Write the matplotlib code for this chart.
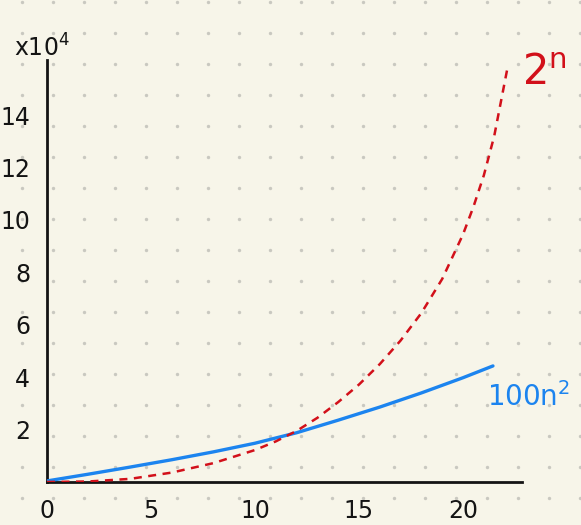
import numpy as np
import matplotlib
matplotlib.use("Agg")
import matplotlib.pyplot as plt

# ---- data (units of 10^4) ----
n_exp = [0, 2, 4, 6, 8, 10, 11, 12, 13, 14, 15, 16, 17, 18, 19, 20, 20.5, 21, 21.5, 22.12]
v_exp = [0, 0.02, 0.12, 0.36, 0.72, 1.22, 1.55, 1.95, 2.45, 3.05, 3.72, 4.50, 5.40,
         6.45, 7.75, 9.45, 10.50, 11.70, 13.20, 15.73]

n_poly = [0, 2, 4, 6, 8, 10, 12, 14, 16, 18, 20, 21.44]
v_poly = [0.04, 0.30, 0.57, 0.85, 1.15, 1.48, 1.88, 2.36, 2.86, 3.40, 3.98, 4.43]

x_ticks = [0, 5, 10, 15, 20]
y_ticks = [2, 4, 6, 8, 10, 12, 14]

W, H = 581, 525
BG = "#f7f5e9"
RED = "#d2101a"
BLUE = "#1c84ef"
INK = "#141414"

fig = plt.figure(figsize=(W / 100, H / 100), dpi=100, facecolor=BG)

# dotted-paper background
bg = fig.add_axes([0, 0, 1, 1], zorder=-1)
bg.set_xlim(0, W)
bg.set_ylim(H, 0)
bg.axis("off")
gx, gy = np.meshgrid(np.arange(22.3, W, 31.0), np.arange(1.7, H, 31.0))
bg.scatter(gx.ravel(), gy.ravel(), s=6, color="#c9c8c0", linewidths=0)

# main axes: y axis at px 47, x axis at px 482, top 60, right 522
left, right, top, bottom = 47, 522, 60, 482
ax = fig.add_axes([left / W, (H - bottom) / H, (right - left) / W, (bottom - top) / H])
ax.set_facecolor("none")
ax.set_xlim(0, (right - left) / 20.8)
ax.set_ylim(0, (bottom - top) / 26.2)

ax.plot(n_poly, v_poly, color=BLUE, lw=2.4, solid_capstyle="round",
        solid_joinstyle="round", zorder=3)
ax.plot(n_exp, v_exp, color=RED, lw=1.8, dashes=(3.2, 2.6), zorder=4)

for s in ["top", "right"]:
    ax.spines[s].set_visible(False)
for s in ["left", "bottom"]:
    ax.spines[s].set_color(INK)
    ax.spines[s].set_linewidth(2.0)

ax.set_xticks(x_ticks)
ax.set_yticks(y_ticks)
ax.tick_params(length=0, labelsize=17, colors=INK)
ax.tick_params(axis="x", pad=12)
ax.tick_params(axis="y", pad=12)

fig.text(14 / W, 1 - 62 / H, r"x$10^4$", fontsize=17, color=INK, ha="left", va="bottom")
fig.text(522 / W, 1 - 94 / H, r"$\mathregular{2^n}$", fontsize=30, color=RED,
         ha="left", va="bottom")
fig.text(487 / W, 1 - 412 / H, r"$\mathregular{100n^2}$", fontsize=20, color=BLUE,
         ha="left", va="bottom")

fig.savefig("out.png", dpi=100, facecolor=BG)
